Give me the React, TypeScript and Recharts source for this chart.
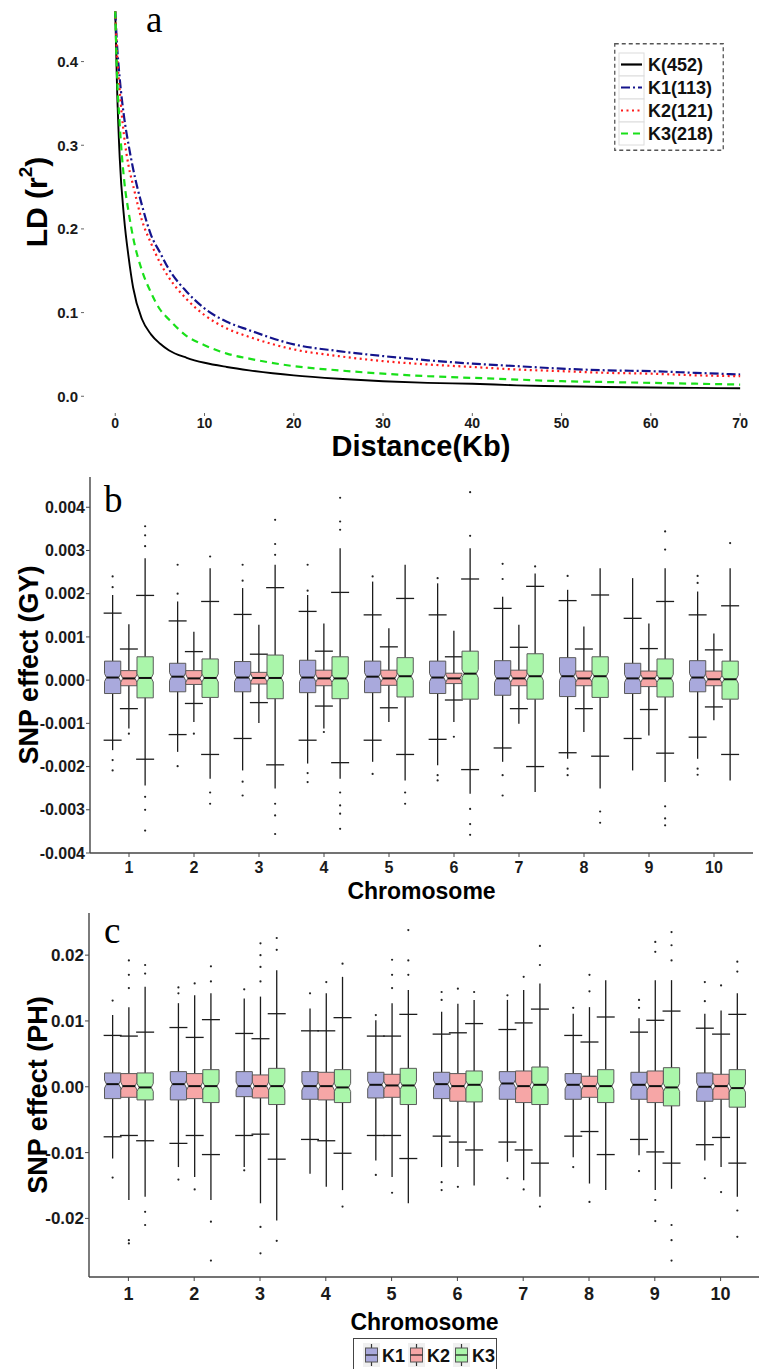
import React from 'react';
import { LineChart, Line, ComposedChart, Bar, XAxis, YAxis, Legend, Label } from 'recharts';

const FONT = '"Liberation Sans", Arial, Helvetica, sans-serif';
const SERIF = '"Liberation Serif", "Times New Roman", serif';

// ---------- panel a: LD decay ----------
const distanceKb = [0, 0.2, 0.5, 1, 1.5, 2, 3, 4, 5, 6, 8, 10, 12.5, 15, 20, 25, 30, 35, 40, 45, 50, 55, 60, 65, 70];
const ldK = [0.46, 0.37, 0.285, 0.212, 0.166, 0.13, 0.092, 0.074, 0.063, 0.055, 0.046, 0.04, 0.035, 0.031, 0.025, 0.021, 0.018, 0.016, 0.015, 0.013, 0.012, 0.011, 0.0105, 0.01, 0.0095];
const ldK1 = [0.46, 0.42, 0.38, 0.333, 0.3, 0.272, 0.228, 0.193, 0.172, 0.152, 0.125, 0.105, 0.089, 0.079, 0.062, 0.054, 0.048, 0.043, 0.039, 0.036, 0.033, 0.031, 0.03, 0.028, 0.026];
const ldK2 = [0.46, 0.41, 0.365, 0.31, 0.275, 0.252, 0.21, 0.183, 0.16, 0.142, 0.116, 0.097, 0.081, 0.071, 0.056, 0.048, 0.042, 0.038, 0.035, 0.032, 0.03, 0.028, 0.027, 0.025, 0.024];
const ldK3 = [0.46, 0.385, 0.325, 0.258, 0.22, 0.19, 0.15, 0.124, 0.104, 0.092, 0.072, 0.061, 0.051, 0.045, 0.036, 0.031, 0.027, 0.024, 0.022, 0.02, 0.018, 0.017, 0.016, 0.015, 0.014];
const ldNames = ['K(452)', 'K1(113)', 'K2(121)', 'K3(218)'];
const ldKeys = ['k', 'k1', 'k2', 'k3'];
const ldColors = ['#000000', '#14148c', '#ff1c1c', '#19e019'];
const ldDash = [undefined, '9 3 2 3', '2 3.5', '7 5'];
const ldTicksX = [0, 10, 20, 30, 40, 50, 60, 70];
const ldTicksY = [0, 0.1, 0.2, 0.3, 0.4];

const ldRows = distanceKb.map((d, i) => ({ d, k: ldK[i], k1: ldK1[i], k2: ldK2[i], k3: ldK3[i] }));

// ---------- panels b, c: SNP effects per chromosome ----------
const chromosomes = ['1', '2', '3', '4', '5', '6', '7', '8', '9', '10'];
const groupNames = ['K1', 'K2', 'K3'];
const groupFills = ['#a9a9dc', '#f6a6a6', '#aaf6aa'];

// row = [tail low, whisker low, q1, median, q3, whisker high, tail high]
const gyK1 = [
  [-0.00162, -0.00139, -0.00031, 0.00006, 0.00044, 0.00155, 0.00197],
  [-0.00166, -0.00126, -0.00027, 0.00008, 0.00039, 0.00137, 0.00182],
  [-0.00209, -0.00135, -0.00027, 0.00006, 0.00043, 0.00152, 0.00213],
  [-0.00193, -0.00139, -0.00029, 0.00006, 0.00046, 0.00159, 0.00197],
  [-0.00189, -0.00139, -0.00029, 0.00008, 0.00044, 0.00151, 0.00228],
  [-0.00197, -0.00137, -0.00031, 0.00006, 0.00044, 0.00151, 0.00224],
  [-0.00189, -0.00157, -0.00035, 0.00004, 0.00045, 0.00166, 0.00193],
  [-0.00182, -0.00168, -0.00038, 0.00009, 0.00052, 0.00184, 0.00209],
  [-0.00209, -0.00135, -0.00031, 0.00004, 0.00039, 0.00143, 0.00236],
  [-0.00182, -0.00132, -0.00027, 0.00006, 0.00045, 0.00151, 0.00205],
];
const gyK1Out = [
  [-0.00209, -0.00185, 0.00215, 0.0024],
  [-0.00199, 0.002, 0.00267],
  [-0.00235, -0.00267, 0.0023, 0.00267],
  [-0.00215, -0.00236, 0.00207, 0.00267],
  [-0.00217, 0.0024],
  [-0.0022, -0.00232, 0.00236],
  [-0.0022, -0.00267, 0.00234, 0.00269],
  [-0.00205, -0.0022, 0.00241],
  [],
  [-0.00205, -0.00219, 0.00225, 0.00241],
];
const gyK2 = [
  [-0.00112, -0.00066, -0.00013, 0.00004, 0.00022, 0.00072, 0.00129],
  [-0.00097, -0.00054, -0.0001, 0.00004, 0.00022, 0.00066, 0.00112],
  [-0.00099, -0.00052, -0.00009, 0.00005, 0.00018, 0.0006, 0.00128],
  [-0.00112, -0.0006, -0.00013, 0.00004, 0.00023, 0.00067, 0.00131],
  [-0.00097, -0.00064, -0.00012, 0.00004, 0.00023, 0.00077, 0.0012],
  [-0.00097, -0.00046, -0.00008, 0.00004, 0.00016, 0.00054, 0.00114],
  [-0.00101, -0.00066, -0.00013, 0.00004, 0.00023, 0.00076, 0.00128],
  [-0.0012, -0.00066, -0.00013, 0.00004, 0.00021, 0.00072, 0.00124],
  [-0.00128, -0.00068, -0.00015, 0.00004, 0.00021, 0.00073, 0.00131],
  [-0.00093, -0.00062, -0.00013, 0.00002, 0.00021, 0.0007, 0.00108],
];
const gyK2Out = [[-0.00124], [-0.00124], [], [-0.0012], [], [-0.00131], [], [], [], []];
const gyK3 = [
  [-0.00244, -0.00183, -0.00041, 0.00005, 0.00054, 0.00196, 0.00282],
  [-0.00228, -0.00172, -0.0004, 0.00005, 0.00049, 0.00182, 0.00259],
  [-0.00251, -0.00196, -0.00043, 0.00005, 0.00058, 0.00214, 0.00267],
  [-0.00228, -0.00191, -0.00043, 0.00004, 0.00054, 0.00203, 0.00305],
  [-0.00232, -0.00172, -0.00039, 0.00009, 0.00052, 0.00189, 0.00267],
  [-0.00263, -0.00207, -0.00044, 0.00015, 0.00067, 0.00234, 0.00305],
  [-0.00259, -0.002, -0.00044, 0.00009, 0.00061, 0.00217, 0.00247],
  [-0.00251, -0.00176, -0.0004, 0.00009, 0.00054, 0.00197, 0.00259],
  [-0.00236, -0.00169, -0.00039, 0.00004, 0.00049, 0.00182, 0.00259],
  [-0.00232, -0.00172, -0.00044, 0.00002, 0.00044, 0.00172, 0.00259],
];
const gyK3Out = [
  [-0.0027, -0.003, -0.00348, 0.0031, 0.00335, 0.00356],
  [-0.0026, -0.00286, 0.00286],
  [-0.00286, -0.00313, -0.00356, 0.0029, 0.00315, 0.00371],
  [-0.0026, -0.0029, -0.00309, -0.00344, 0.00348, 0.00367, 0.00422],
  [-0.0026, -0.00286],
  [-0.00298, -0.00333, -0.00358, 0.00334, 0.00435],
  [0.00263],
  [-0.00304, -0.0033],
  [-0.00292, -0.0032, -0.00336, 0.00302, 0.00344],
  [0.00317],
];
const gyTicks = [-0.004, -0.003, -0.002, -0.001, 0, 0.001, 0.002, 0.003, 0.004];

const phK1 = [
  [-0.0109, -0.0076, -0.0018, 0.0004, 0.0021, 0.0078, 0.0109],
  [-0.0122, -0.0086, -0.002, 0.0004, 0.0023, 0.009, 0.0127],
  [-0.0122, -0.0074, -0.0015, 0.0001, 0.0023, 0.0081, 0.0134],
  [-0.0132, -0.008, -0.0019, 0.0001, 0.0023, 0.0085, 0.0119],
  [-0.0112, -0.0074, -0.0017, 0.0003, 0.0022, 0.0077, 0.0101],
  [-0.0122, -0.0075, -0.0018, 0.0004, 0.0022, 0.008, 0.0114],
  [-0.0114, -0.0084, -0.0019, 0.0005, 0.0023, 0.0087, 0.0132],
  [-0.0107, -0.0075, -0.0019, 0.0003, 0.002, 0.0078, 0.0111],
  [-0.0104, -0.008, -0.0019, 0.0003, 0.0022, 0.0083, 0.0104],
  [-0.0112, -0.0088, -0.0022, 0.0, 0.0021, 0.0089, 0.0111],
];
const phK1Out = [
  [-0.0138, 0.0131],
  [-0.0141, 0.0142, 0.0151],
  [-0.0127, 0.0148],
  [0.0142],
  [-0.0134, 0.0109],
  [-0.0145, -0.0157, 0.0132, 0.0144],
  [-0.0139, 0.0139],
  [-0.0122, 0.012],
  [-0.0128, 0.012, 0.0132],
  [-0.0139, 0.013, 0.0159],
];
const phK2 = [
  [-0.0172, -0.0074, -0.0016, 0.0001, 0.002, 0.0077, 0.0121],
  [-0.0137, -0.0074, -0.0018, 0.0001, 0.002, 0.0075, 0.0139],
  [-0.0177, -0.0072, -0.0017, 0.0001, 0.0018, 0.0073, 0.0137],
  [-0.0152, -0.0082, -0.002, 0.0001, 0.0022, 0.0085, 0.0142],
  [-0.0137, -0.0074, -0.0016, 0.0002, 0.0019, 0.0077, 0.0127],
  [-0.0122, -0.0084, -0.0022, 0.0001, 0.002, 0.0082, 0.0126],
  [-0.0142, -0.0096, -0.0024, 0.0001, 0.0024, 0.0097, 0.0147],
  [-0.0147, -0.0068, -0.0016, 0.0001, 0.0016, 0.0068, 0.0121],
  [-0.0157, -0.0099, -0.0024, 0.0001, 0.0024, 0.0101, 0.0162],
  [-0.0122, -0.0077, -0.0019, 0.0001, 0.0019, 0.008, 0.0116],
];
const phK2Out = [
  [-0.0233, -0.0238, 0.015, 0.017, 0.0192],
  [-0.0156, 0.0157],
  [-0.0213, -0.0253, 0.016, 0.0182, 0.02, 0.0218],
  [0.0159],
  [-0.0161, 0.015, 0.017, 0.0193],
  [-0.0152, 0.0149],
  [-0.0156, 0.0167],
  [-0.0175, 0.0145, 0.017],
  [-0.0172, -0.0204, 0.0205, 0.022],
  [-0.016, 0.0154],
];
const phK3 = [
  [-0.0167, -0.0082, -0.002, -0.0001, 0.0021, 0.0083, 0.0152],
  [-0.0172, -0.0103, -0.0024, 0.0001, 0.0026, 0.0102, 0.0142],
  [-0.0203, -0.011, -0.0027, 0.0001, 0.0028, 0.0111, 0.0177],
  [-0.0157, -0.0101, -0.0024, -0.0001, 0.0026, 0.0105, 0.0167],
  [-0.0177, -0.0109, -0.0027, 0.0002, 0.0028, 0.011, 0.0147],
  [-0.015, -0.0096, -0.0023, 0.0003, 0.0024, 0.0096, 0.0132],
  [-0.0167, -0.0116, -0.0027, 0.0003, 0.003, 0.0118, 0.0157],
  [-0.0157, -0.0103, -0.0024, 0.0001, 0.0026, 0.0106, 0.0162],
  [-0.0155, -0.0116, -0.0029, -0.0001, 0.0029, 0.0115, 0.0162],
  [-0.0167, -0.0116, -0.0031, -0.0002, 0.0026, 0.011, 0.0142],
];
const phK3Out = [
  [-0.019, -0.021, 0.0172, 0.0185],
  [-0.0205, -0.0264, 0.016, 0.0183],
  [-0.0234, 0.0208, 0.0226],
  [-0.0182, 0.0187],
  [0.017, 0.0192, 0.0238],
  [0.0144],
  [-0.0182, 0.0185, 0.0214],
  [],
  [-0.021, -0.0233, -0.0264, 0.0192, 0.0215, 0.0235],
  [-0.0188, -0.0228, 0.0175, 0.019],
];
const phTicks = [-0.02, -0.01, 0, 0.01, 0.02];

const gyRows = chromosomes.map((chr, i) => ({
  chr, k1: gyK1[i], k2: gyK2[i], k3: gyK3[i], o1: gyK1Out[i], o2: gyK2Out[i], o3: gyK3Out[i],
}));
const phRows = chromosomes.map((chr, i) => ({
  chr, k1: phK1[i], k2: phK2[i], k3: phK3[i], o1: phK1Out[i], o2: phK2Out[i], o3: phK3Out[i],
}));

const INK = '#1c1c1c';

// box drawn on top of the bar rect (bar spans q1..q3, so its geometry gives the y scale)
function BoxGlyph(props: any) {
  const { x, y, width, height, payload, stat, out, color } = props;
  const s: number[] = payload[stat];
  const outs: number[] = payload[out] || [];
  const [tailLo, lo, q1, med, q3, hi, tailHi] = s;
  const top = Math.min(y, y + height);
  const k = Math.abs(height) / (q3 - q1);
  const py = (v: number) => top + (q3 - v) * k;
  const cx = x + width / 2;
  const l = x;
  const r = x + width;
  const m = py(med);
  const nh = 4;
  const nd = 2;
  const d = `M${l},${py(q3)} L${r},${py(q3)} L${r},${m - nh} L${r - nd},${m} L${r},${m + nh} L${r},${py(q1)} L${l},${py(q1)} L${l},${m + nh} L${l + nd},${m} L${l},${m - nh} Z`;
  return (
    <g>
      <line x1={cx} x2={cx} y1={py(tailLo)} y2={py(tailHi)} stroke={INK} strokeWidth={1.3} />
      <line x1={cx - 9} x2={cx + 9} y1={py(hi)} y2={py(hi)} stroke={INK} strokeWidth={1.3} />
      <line x1={cx - 9} x2={cx + 9} y1={py(lo)} y2={py(lo)} stroke={INK} strokeWidth={1.3} />
      {outs.map((v, i) => (
        <circle key={i} cx={cx} cy={py(v)} r={1.1} fill="#222" />
      ))}
      <path d={d} fill={color} stroke="#5a5a5a" strokeWidth={1} />
      <line x1={l + nd} x2={r - nd} y1={m} y2={m} stroke="#111" strokeWidth={2} />
    </g>
  );
}

function yTitle(text: React.ReactNode, cx: number, size: number, dy = 0) {
  return (props: any) => {
    const vb = props.viewBox || {};
    const cy = vb.y + vb.height / 2 + dy;
    return (
      <text x={cx} y={cy} transform={`rotate(-90 ${cx} ${cy})`} textAnchor="middle" dominantBaseline="central"
        fontSize={size} fontWeight="bold" fontFamily={FONT} fill="#000">
        {text}
      </text>
    );
  };
}

const tickStyle = (size: number) => ({ fontSize: size, fontWeight: 'bold', fill: '#1a1a1a', fontFamily: FONT });

function LdLegend() {
  return (
    <svg width={110} height={108}>
      <rect x={0.75} y={0.75} width={108.5} height={106.5} fill="#fff" stroke="#555" strokeWidth={1.3} strokeDasharray="4 3" />
      {ldNames.map((name, i) => (
        <g key={name} transform={`translate(5, ${10 + i * 23})`}>
          <rect x={0} y={0} width={25} height={23} fill="#fff" stroke="#dcdcdc" />
          <line x1={2} x2={23} y1={11.5} y2={11.5} stroke={ldColors[i]} strokeWidth={2.2} strokeDasharray={ldDash[i]} />
          <text x={29} y={18} fontSize={18} fontWeight="bold" fontFamily={FONT} fill="#111">{name}</text>
        </g>
      ))}
    </svg>
  );
}

function BoxLegend() {
  return (
    <svg width={144} height={31}>
      <rect x={0.5} y={0.5} width={143} height={31} fill="#fff" stroke="#444" />
      {groupNames.map((g, i) => {
        const x0 = 10 + i * 45;
        return (
          <g key={g}>
            <rect x={x0} y={5} width={17} height={24} fill="#f0f0f0" />
            <line x1={x0 + 8.5} x2={x0 + 8.5} y1={6} y2={28} stroke="#333" strokeWidth={1.2} />
            <rect x={x0 + 2.5} y={10} width={12} height={14} fill={groupFills[i]} stroke="#555" />
            <line x1={x0 + 2.5} x2={x0 + 14.5} y1={17} y2={17} stroke="#222" strokeWidth={1.3} />
            <text x={x0 + 19} y={24} fontSize={18} fontWeight="bold" fontFamily={FONT} fill="#111">{g}</text>
          </g>
        );
      })}
    </svg>
  );
}

function BoxPanel(props: {
  rows: any[]; width: number; height: number; top: number; yAxisWidth: number; rightMargin: number;
  xAxisHeight: number; domain: [number, number]; ticks: number[]; digits: number; yLabel: string;
  titleX: number; titleOffset: number; xTickSize: number; xTickMargin: number; yTickSize: number; legend?: boolean;
}) {
  const p = props;
  return (
    <ComposedChart width={p.width} height={p.height} data={p.rows} barGap={0}
      margin={{ top: p.top, right: p.rightMargin, bottom: 0, left: 0 }}>
      <XAxis dataKey="chr" padding={{ left: 6.5, right: 6.5 }} height={p.xAxisHeight}
        axisLine={{ stroke: '#444', strokeWidth: 1.4 }} tickLine={{ stroke: '#444' }} tickSize={4} tickMargin={p.xTickMargin}
        tick={tickStyle(p.xTickSize)} interval={0}>
        <Label value="Chromosome" position="insideBottom" offset={p.titleOffset} fontSize={23} fontWeight="bold"
          fontFamily={FONT} fill="#000" />
      </XAxis>
      <XAxis xAxisId="top" orientation="top" type="number" domain={[0, 1]} height={0} tick={false} tickLine={false}
        axisLine={{ stroke: '#444', strokeWidth: 1.4 }} />
      <YAxis type="number" domain={p.domain} ticks={p.ticks} allowDataOverflow width={p.yAxisWidth}
        tickFormatter={(v: number) => v.toFixed(p.digits)} axisLine={{ stroke: '#444', strokeWidth: 1.4 }}
        tickLine={{ stroke: '#444' }} tickSize={4} tickMargin={1} tick={tickStyle(p.yTickSize)}>
        <Label content={yTitle(p.yLabel, p.titleX, 27)} />
      </YAxis>
      <YAxis yAxisId="right" orientation="right" type="number" domain={[0, 1]} width={0} tick={false} tickLine={false}
        axisLine={{ stroke: '#444', strokeWidth: 1.4 }} />
      {['k1', 'k2', 'k3'].map((key, gi) => (
        <Bar key={key} dataKey={(r: any) => [r[key][2], r[key][4]]} name={groupNames[gi]} barSize={16.25}
          fill={groupFills[gi]} isAnimationActive={false}
          shape={(sp: any) => <BoxGlyph {...sp} stat={key} out={`o${gi + 1}`} color={groupFills[gi]} />} />
      ))}
      {p.legend && (
        <Legend layout="vertical" align="center" verticalAlign="middle" content={() => <BoxLegend />}
          wrapperStyle={{ left: 353, top: 438, width: 144, height: 31 }} />
      )}
    </ComposedChart>
  );
}

export default function App() {
  return (
    <div style={{ position: 'absolute', left: 0, top: 0, width: 759, height: 1369, background: '#fff', overflow: 'hidden' }}>
      {/* panel a */}
      <div style={{ position: 'absolute', left: 0, top: 0 }}>
        <LineChart width={759} height={470} data={ldRows} margin={{ top: 3, right: 1, bottom: 0, left: 0 }}>
          <XAxis dataKey="d" type="number" domain={[-3.5, 72]} ticks={ldTicksX} allowDataOverflow height={57}
            axisLine={false} tickLine={{ stroke: '#666' }} tickSize={3} tickMargin={2} tick={tickStyle(14)}>
            <Label value="Distance(Kb)" position="insideBottom" offset={14} fontSize={29} fontWeight="bold"
              fontFamily={FONT} fill="#000" />
          </XAxis>
          <YAxis type="number" domain={[-0.02, 0.47]} ticks={ldTicksY} allowDataOverflow width={84}
            tickFormatter={(v: number) => v.toFixed(1)} axisLine={false} tickLine={{ stroke: '#666' }} tickSize={3}
            tickMargin={3} tick={tickStyle(15)}>
            <Label content={yTitle(<>LD (r<tspan dy={-11} fontSize={19}>2</tspan><tspan dy={11}>)</tspan></>, 36, 30, -6)} />
          </YAxis>
          {ldKeys.map((key, i) => (
            <Line key={key} dataKey={key} name={ldNames[i]} type="monotone" stroke={ldColors[i]}
              strokeWidth={i === 0 ? 1.9 : 2.2} strokeDasharray={ldDash[i]} dot={false} isAnimationActive={false} />
          ))}
          <Legend layout="vertical" align="center" verticalAlign="middle" content={() => <LdLegend />}
            wrapperStyle={{ left: 614, top: 43, width: 110, height: 108 }} />
        </LineChart>
      </div>

      {/* panel b */}
      <div style={{ position: 'absolute', left: 0, top: 470 }}>
        <BoxPanel rows={gyRows} width={759} height={437} top={7} yAxisWidth={90} rightMargin={6} xAxisHeight={54}
          domain={[-0.004, 0.0047]} ticks={gyTicks} digits={3} yLabel="SNP effect (GY)" titleX={29} titleOffset={8}
          xTickSize={16} xTickMargin={5} yTickSize={16} />
      </div>

      {/* panel c */}
      <div style={{ position: 'absolute', left: 0, top: 900, width: 759, height: 469, overflow: 'hidden' }}>
        <BoxPanel rows={phRows} width={760} height={469} top={13} yAxisWidth={89} rightMargin={0} xAxisHeight={92}
          domain={[-0.0289, 0.0264]} ticks={phTicks} digits={2} yLabel="SNP effect (PH)" titleX={38} titleOffset={39}
          xTickSize={18} xTickMargin={6} yTickSize={17} legend />
      </div>

      {/* panel letters */}
      <svg width={759} height={1369} style={{ position: 'absolute', left: 0, top: 0, pointerEvents: 'none' }}>
        <text x={146} y={32} fontSize={37} fontFamily={SERIF} fill="#000">a</text>
        <text x={104} y={512} fontSize={37} fontFamily={SERIF} fill="#000">b</text>
        <text x={104} y={943} fontSize={37} fontFamily={SERIF} fill="#000">c</text>
      </svg>
    </div>
  );
}
